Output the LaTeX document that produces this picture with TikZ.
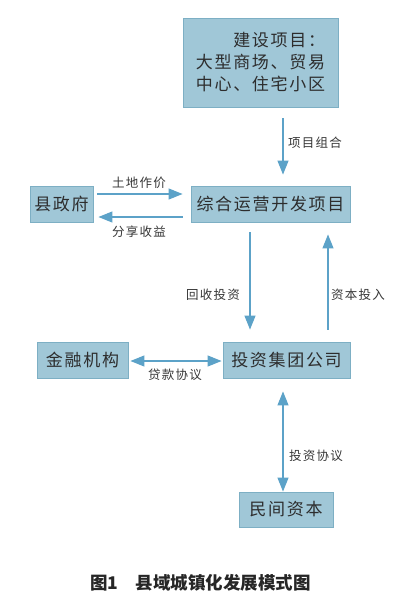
\documentclass[tikz,border=0pt]{standalone}
\usepackage{fontspec}
\usetikzlibrary{arrows.meta,calc}
\newfontfamily\cjkbox[LetterSpace=10]{Noto Sans CJK SC}
\newfontfamily\cjklab[LetterSpace=10]{Noto Sans CJK SC}
\newfontfamily\cjkcap{Noto Sans CJK SC}
\definecolor{boxfill}{RGB}{160,199,215}
\definecolor{boxline}{RGB}{125,175,196}
\definecolor{arrcol}{RGB}{92,162,200}
\definecolor{txt}{RGB}{45,45,45}
\definecolor{labtxt}{RGB}{55,55,55}
\tikzset{
  boxnode/.style={draw=boxline, fill=boxfill, line width=0.9pt, inner sep=0pt,
    font=\cjkbox\fontsize{17}{22}\selectfont, text=txt},
  arr/.style={draw=arrcol, line width=1.2pt, -{Triangle[length=14pt,width=11pt]}},
  darr/.style={draw=arrcol, line width=1.2pt, {Triangle[length=14pt,width=11pt]}-{Triangle[length=14pt,width=11pt]}},
  lab/.style={font=\cjklab\fontsize{12.5}{14}\selectfont, text=labtxt, inner sep=0pt}
}
\begin{document}
\begin{tikzpicture}[x=1pt,y=-1pt]
\useasboundingbox (0,0) rectangle (401,613);
\fill[white] (0,0) rectangle (401,613);
% boxes
\node[boxnode, minimum width=155pt, minimum height=89pt, align=left] (top) at (260.5,62.5)
  {　　建设项目：\\大型商场、贸易\\中心、住宅小区};
\node[boxnode, minimum width=159pt, minimum height=36pt] (zh) at (270.5,204) {综合运营开发项目};
\node[boxnode, minimum width=63pt, minimum height=36pt] (xzf) at (61.5,204) {县政府};
\node[boxnode, minimum width=91pt, minimum height=36pt] (jr) at (82.5,360) {金融机构};
\node[boxnode, minimum width=127pt, minimum height=36pt] (tz) at (286.5,360) {投资集团公司};
\node[boxnode, minimum width=94pt, minimum height=35pt] (mj) at (286,509.5) {民间资本};
% arrows
\draw[arr] ($(top.south)+(22.5,11)$) -- ($(zh.north)+(12.5,-11)$);
\draw[arr] ($(xzf.east)+(4,-10)$) -- ($(zh.west)+(-8,-10)$);
\draw[arr] ($(zh.west)+(-8,13)$) -- ($(xzf.east)+(5,13)$);
\draw[arr] ($(zh.south)+(-20.5,10)$) -- ($(tz.north)+(-36.5,-12)$);
\draw[arr] ($(tz.north)+(41.5,-12)$) -- ($(zh.south)+(57.5,12)$);
\draw[darr] ($(jr.east)+(2,1)$) -- ($(tz.west)+(-1,1)$);
\draw[darr] ($(tz.south)+(-3.5,13)$) -- ($(mj.north)+(-3,0)$);
% labels
\node[lab] (l1) at (315,143) {项目组合};
\node[lab] (l2) at (139,183) {土地作价};
\node[lab] (l3) at (139,232) {分享收益};
\node[lab] (l4) at (213,295) {回收投资};
\node[lab] (l5) at (358,295) {资本投入};
\node[lab] (l6) at (175,375) {贷款协议};
\node[lab] (l7) at (316,456) {投资协议};
% caption
\node[font=\cjkcap\bfseries\fontsize{17.5}{20}\selectfont, text=black!85, inner sep=0pt] (cap) at (200.5,583) {图1　县域城镇化发展模式图};
\end{tikzpicture}
\end{document}
